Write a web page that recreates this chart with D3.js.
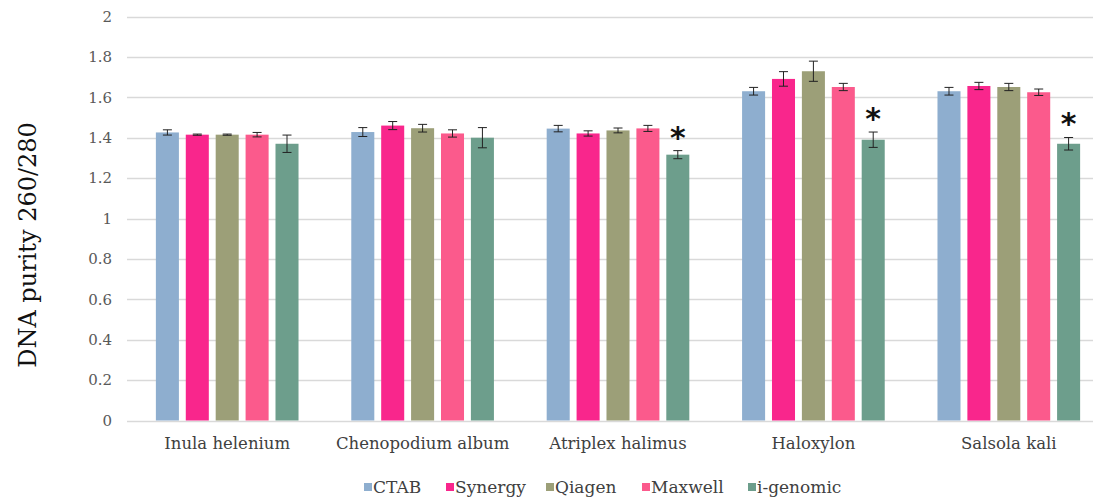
<!DOCTYPE html>
<html>
<head>
<meta charset="utf-8">
<script src="https://cdn.jsdelivr.net/npm/d3@7/dist/d3.min.js"></script>
<style>
  html, body { margin: 0; padding: 0; background: #fff; }
  svg { display: block; }
</style>
</head>
<body>
<svg id="chart" width="1093" height="497"></svg>
<script>
// Species (x categories) and extraction methods (series)
const species = ["Inula helenium", "Chenopodium album", "Atriplex halimus", "Haloxylon", "Salsola kali"];
const methods = ["CTAB", "Synergy", "Qiagen", "Maxwell", "i-genomic"];
const colors  = ["#8eaecf", "#f9268c", "#9c9f78", "#fb5a8c", "#6d9e8c"];

// Mean 260/280 ratio per method, one value per species
const ctab     = [1.426, 1.428, 1.445, 1.630, 1.630];
const synergy  = [1.415, 1.460, 1.421, 1.691, 1.656];
const qiagen   = [1.415, 1.447, 1.436, 1.729, 1.651];
const maxwell  = [1.415, 1.421, 1.446, 1.651, 1.625];
const igenomic = [1.370, 1.400, 1.316, 1.390, 1.370];

// Standard deviations (error bars)
const ctabSd     = [0.013, 0.022, 0.016, 0.019, 0.019];
const synergySd  = [0.003, 0.020, 0.013, 0.036, 0.018];
const qiagenSd   = [0.003, 0.019, 0.012, 0.050, 0.018];
const maxwellSd  = [0.011, 0.018, 0.015, 0.018, 0.016];
const igenomicSd = [0.043, 0.050, 0.020, 0.038, 0.031];

// Significant difference markers (i-genomic series)
const significant = [false, false, true, true, true];

const yTicks = [0, 0.2, 0.4, 0.6, 0.8, 1, 1.2, 1.4, 1.6, 1.8, 2];

const values = [ctab, synergy, qiagen, maxwell, igenomic];
const sds = [ctabSd, synergySd, qiagenSd, maxwellSd, igenomicSd];

const svg = d3.select("#chart");
const serif = "'DejaVu Serif', 'Liberation Serif', serif";

const x0 = d3.scaleBand().domain(species).range([129.5, 1106.5])
  .paddingInner(0.27).paddingOuter(0.135);
const x1 = d3.scaleBand().domain(methods).range([0, x0.bandwidth()])
  .paddingInner(0.23).paddingOuter(0);
const y = d3.scaleLinear().domain([0, 2]).range([420.5, 16.5]);

// Horizontal gridlines
svg.append("g").selectAll("line").data(yTicks).join("line")
  .attr("x1", 127).attr("x2", 1093)
  .attr("y1", d => Math.round(y(d)) + 0.5).attr("y2", d => Math.round(y(d)) + 0.5)
  .attr("stroke", "#d9d9d9").attr("stroke-width", 1.5);

// Y tick labels
const yAxis = d3.axisLeft(y).tickValues(yTicks).tickSize(0).tickPadding(0)
  .tickFormat(d => String(d));
const ya = svg.append("g").attr("transform", "translate(112,0)").call(yAxis);
ya.select(".domain").remove();
ya.selectAll("text").attr("font-family", serif).attr("font-size", 15)
  .attr("fill", "#595959");

// Y axis title
svg.append("text")
  .attr("transform", "translate(36,245) rotate(-90)")
  .attr("text-anchor", "middle")
  .attr("font-family", serif).attr("font-size", 24).attr("fill", "#111")
  .text("DNA purity 260/280");

// Bars and error bars
const rows = [];
species.forEach((s, i) => methods.forEach((m, j) => {
  rows.push({ s, m, j, v: values[j][i], sd: sds[j][i], sig: j === 4 && significant[i] });
}));

const g = svg.append("g");
g.selectAll("rect").data(rows).join("rect")
  .attr("x", d => x0(d.s) + x1(d.m))
  .attr("y", d => y(d.v))
  .attr("width", x1.bandwidth())
  .attr("height", d => y(0) - y(d.v))
  .attr("fill", d => colors[d.j]);

const eb = g.selectAll("g.err").data(rows).join("g").attr("class", "err")
  .attr("stroke", "#222").attr("stroke-width", 1);
const cx = d => x0(d.s) + x1(d.m) + x1.bandwidth() / 2;
eb.append("line")
  .attr("x1", cx).attr("x2", cx)
  .attr("y1", d => y(d.v - d.sd)).attr("y2", d => y(d.v + d.sd));
eb.append("line")
  .attr("x1", d => cx(d) - 4.5).attr("x2", d => cx(d) + 4.5)
  .attr("y1", d => y(d.v + d.sd)).attr("y2", d => y(d.v + d.sd));
eb.append("line")
  .attr("x1", d => cx(d) - 4.5).attr("x2", d => cx(d) + 4.5)
  .attr("y1", d => y(d.v - d.sd)).attr("y2", d => y(d.v - d.sd));

// Significance asterisks
g.selectAll("text.sig").data(rows.filter(d => d.sig)).join("text")
  .attr("class", "sig")
  .attr("x", cx)
  .attr("y", d => y(d.v + d.sd) - 3)
  .attr("text-anchor", "middle")
  .attr("font-family", "'DejaVu Sans', sans-serif")
  .attr("font-size", 30).attr("font-weight", "bold").attr("fill", "#111")
  .text("*");

// Category labels
const xAxis = d3.axisBottom(x0).tickSize(0).tickPadding(0);
const xa = svg.append("g").attr("transform", "translate(0,443)").call(xAxis);
xa.select(".domain").remove();
xa.selectAll("text").attr("font-family", serif).attr("font-size", 16.5)
  .attr("fill", "#404040").attr("dy", "0.35em");

// Legend
const legendX = [364, 446, 546, 642, 748];
const lg = svg.append("g").selectAll("g").data(methods).join("g")
  .attr("transform", (d, i) => `translate(${legendX[i]},487)`);
lg.append("rect").attr("x", 0).attr("y", -4).attr("width", 8).attr("height", 8)
  .attr("fill", (d, i) => colors[i]);
lg.append("text").attr("x", 9).attr("dy", "0.35em")
  .attr("font-family", serif).attr("font-size", 17).attr("fill", "#404040")
  .text(d => d);
</script>
</body>
</html>
